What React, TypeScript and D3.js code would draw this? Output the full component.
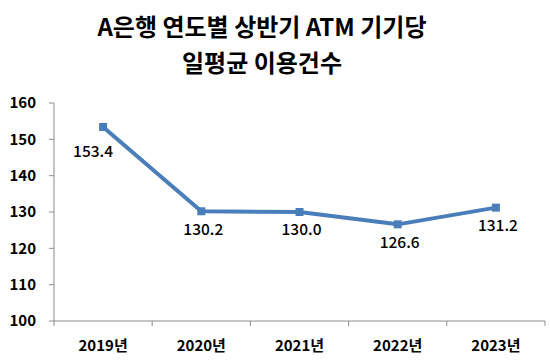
import React from "react";
import * as d3 from "d3";

const titleLines = ["A은행 연도별 상반기 ATM 기기당", "일평균 이용건수"];
const categories = ["2019년", "2020년", "2021년", "2022년", "2023년"];
const values = [153.4, 130.2, 130.0, 126.6, 131.2];
const yTicks = [100, 110, 120, 130, 140, 150, 160];

const W = 550;
const H = 360;
const margin = { left: 54, right: 5, top: 103, bottom: 39 };
const FONT = "'Noto Sans CJK KR', 'Noto Sans', sans-serif";

export default function App() {
  const x = d3
    .scaleBand<string>()
    .domain(categories)
    .range([margin.left, W - margin.right])
    .paddingInner(0)
    .paddingOuter(0);
  const y = d3.scaleLinear().domain([100, 160]).range([H - margin.bottom, margin.top]);
  const cx = (c: string) => (x(c) as number) + x.bandwidth() / 2;
  const line = d3
    .line<number>()
    .x((_, i) => cx(categories[i]))
    .y((v) => y(v));
  const axisColor = "#8c8c8c";
  const lineColor = "#4a7ebb";
  const boundaries = categories.map((c) => x(c) as number).concat([W - margin.right]);
  const y0 = y(100);
  return (
    <svg
      width={W}
      height={H}
      style={{ position: "absolute", left: 0, top: 0, background: "#fff" }}
      fontFamily={FONT}
    >
      <rect width={W} height={H} fill="#fff" />
      {titleLines.map((t, i) => (
        <text
          key={i}
          x={262}
          y={28 + i * 36}
          dy="0.35em"
          textAnchor="middle"
          fontSize={24}
          fontWeight={700}
          fill="#000"
        >
          {t}
        </text>
      ))}
      {/* y axis */}
      <line x1={margin.left} x2={margin.left} y1={y(160)} y2={y0} stroke={axisColor} strokeWidth={1} />
      {yTicks.map((t) => (
        <g key={t}>
          <line x1={margin.left - 5} x2={margin.left} y1={y(t)} y2={y(t)} stroke={axisColor} />
          <text
            x={36}
            y={y(t)}
            dy="0.35em"
            textAnchor="end"
            fontSize={15}
            fontWeight={700}
            fill="#000"
          >
            {t}
          </text>
        </g>
      ))}
      {/* x axis */}
      <line x1={margin.left} x2={W - margin.right} y1={y0} y2={y0} stroke={axisColor} />
      {boundaries.map((b, i) => (
        <line key={i} x1={b} x2={b} y1={y0} y2={y0 + 5} stroke={axisColor} />
      ))}
      {categories.map((c) => (
        <text
          key={c}
          x={cx(c)}
          y={346}
          dy="0.35em"
          textAnchor="middle"
          fontSize={15}
          fontWeight={700}
          fill="#000"
        >
          {c}
        </text>
      ))}
      <path d={line(values) || ""} fill="none" stroke={lineColor} strokeWidth={4} strokeLinejoin="round" />
      {values.map((v, i) => (
        <rect
          key={i}
          x={cx(categories[i]) - 4}
          y={y(v) - 4}
          width={8}
          height={8}
          fill={lineColor}
        />
      ))}
      {values.map((v, i) => (
        <text
          key={"l" + i}
          x={cx(categories[i]) + (i === 0 ? -10 : 2)}
          y={y(v) + (i === 0 ? 25 : 18)}
          dy="0.35em"
          textAnchor="middle"
          fontSize={15.5}
          fontWeight={500}
          fill="#000"
        >
          {v.toFixed(1)}
        </text>
      ))}
    </svg>
  );
}
